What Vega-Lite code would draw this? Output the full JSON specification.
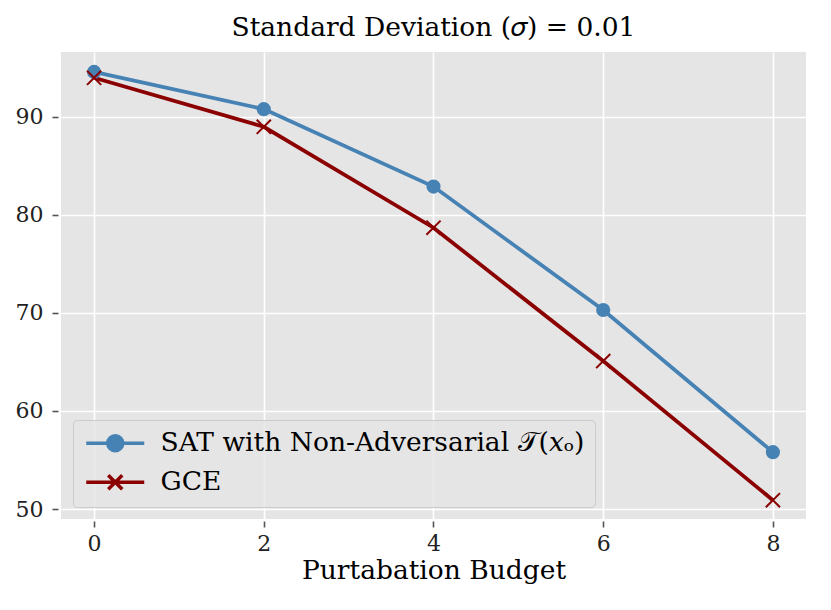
{
  "$schema": "https://vega.github.io/schema/vega-lite/v6.json",
  "autosize": "none",
  "width": 745,
  "height": 467,
  "padding": {"left": 61, "top": 52, "right": 25, "bottom": 91},
  "background": "white",
  "title": {
    "text": "Standard Deviation (𝜎) = 0.01",
    "font": "DejaVu Serif",
    "fontSize": 26.5,
    "fontWeight": "normal",
    "color": "#000000",
    "baseline": "alphabetic",
    "offset": 16,
    "dy": 26,
    "anchor": "middle"
  },
  "data": {
    "values": [
      {"budget": 0, "accuracy": 94.6, "method": "SAT with Non-Adversarial 𝒯(𝑥ₒ)"},
      {"budget": 2, "accuracy": 90.8, "method": "SAT with Non-Adversarial 𝒯(𝑥ₒ)"},
      {"budget": 4, "accuracy": 82.9, "method": "SAT with Non-Adversarial 𝒯(𝑥ₒ)"},
      {"budget": 6, "accuracy": 70.3, "method": "SAT with Non-Adversarial 𝒯(𝑥ₒ)"},
      {"budget": 8, "accuracy": 55.8, "method": "SAT with Non-Adversarial 𝒯(𝑥ₒ)"},
      {"budget": 0, "accuracy": 94.0, "method": "GCE"},
      {"budget": 2, "accuracy": 89.0, "method": "GCE"},
      {"budget": 4, "accuracy": 78.7, "method": "GCE"},
      {"budget": 6, "accuracy": 65.1, "method": "GCE"},
      {"budget": 8, "accuracy": 50.9, "method": "GCE"}
    ]
  },
  "encoding": {
    "x": {
      "field": "budget",
      "type": "quantitative",
      "title": "Purtabation Budget",
      "scale": {"domain": [-0.39, 8.39], "nice": false, "zero": false},
      "axis": {"values": [0, 2, 4, 6, 8], "format": "d", "offset": 2, "titlePadding": 3}
    },
    "y": {
      "field": "accuracy",
      "type": "quantitative",
      "title": null,
      "scale": {"domain": [48.98, 96.63], "nice": false, "zero": false},
      "axis": {"values": [50, 60, 70, 80, 90], "format": "d", "offset": 3, "labelPadding": 9}
    }
  },
  "layer": [
    {
      "mark": {"type": "line", "strokeWidth": 3.8},
      "encoding": {
        "color": {
          "field": "method",
          "type": "nominal",
          "sort": null,
          "scale": {
            "domain": ["SAT with Non-Adversarial 𝒯(𝑥ₒ)", "GCE"],
            "range": ["#4682b4", "#8b0000"]
          },
          "legend": {
            "title": null,
            "orient": "bottom-left",
            "offset": 12,
            "padding": 10,
            "fillColor": "rgba(229,229,229,0.8)",
            "strokeColor": "#cccccc",
            "cornerRadius": 4,
            "labelFont": "DejaVu Serif",
            "labelFontSize": 26.5,
            "labelColor": "#000000",
            "labelOffset": 51,
            "labelLimit": 600,
            "symbolSize": 400,
            "symbolStrokeWidth": 3.5,
            "rowPadding": 10,
            "encode": {
              "symbols": {
                "update": {
                  "shape": {"signal": "datum.value === 'GCE' ? 'M-1,0H4.8M1.2,-0.7L2.6,0.7M1.2,0.7L2.6,-0.7' : 'M-1,0H4.8M2.65,0A0.75,0.75 0 1,1 1.15,0A0.75,0.75 0 1,1 2.65,0'"},
                  "fill": {"signal": "datum.value === 'GCE' ? 'transparent' : '#4682b4'"},
                  "strokeWidth": {"value": 3.5},
                  "opacity": {"value": 1}
                }
              }
            }
          }
        }
      }
    },
    {
      "transform": [{"filter": "datum.method !== 'GCE'"}],
      "mark": {"type": "point", "shape": "circle", "filled": true, "size": 200, "color": "#4682b4", "opacity": 1}
    },
    {
      "transform": [{"filter": "datum.method === 'GCE'"}],
      "mark": {"type": "point", "shape": "M-1,-1L1,1M-1,1L1,-1", "filled": false, "size": 200, "strokeWidth": 2, "color": "#8b0000", "opacity": 1}
    }
  ],
  "config": {
    "view": {"fill": "#e5e5e5", "stroke": null},
    "axis": {
      "domain": false,
      "grid": true,
      "gridColor": "#ffffff",
      "gridWidth": 1.6,
      "gridOpacity": 1,
      "tickColor": "#555555",
      "tickSize": 6,
      "tickWidth": 1.6,
      "labelFont": "DejaVu Serif",
      "labelFontSize": 22,
      "labelColor": "#222222",
      "labelPadding": 6,
      "titleFont": "DejaVu Serif",
      "titleFontSize": 26.5,
      "titleFontWeight": "normal",
      "titleColor": "#000000"
    }
  }
}
